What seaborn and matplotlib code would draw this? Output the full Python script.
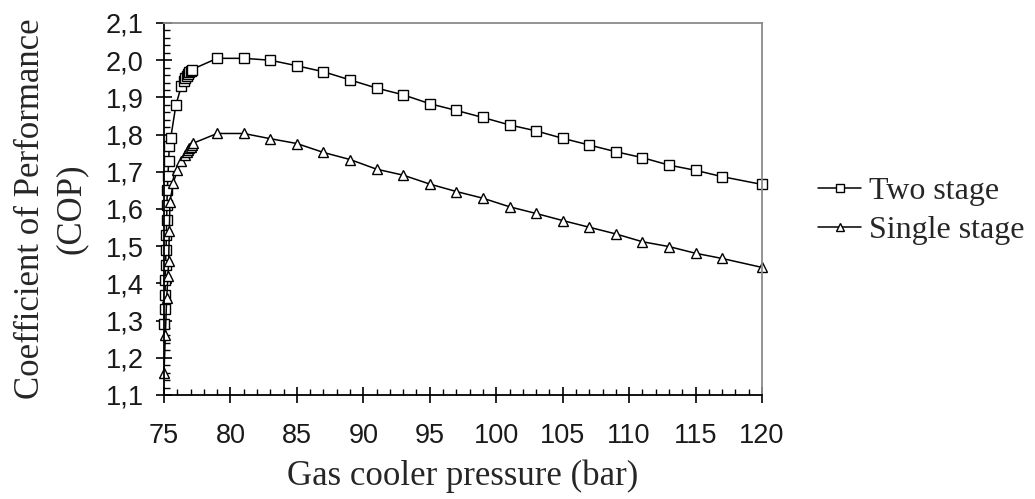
import numpy as np
import pandas as pd
import matplotlib
matplotlib.use("Agg")
import matplotlib.pyplot as plt
from matplotlib.ticker import MultipleLocator, FuncFormatter
import seaborn as sns

# ---- data ----
series_names = ["Two stage", "Single stage"]

two_x = [75.0, 75.05, 75.08, 75.1, 75.12, 75.15, 75.18, 75.2, 75.22, 75.25, 75.3, 75.35,
         75.4, 75.5, 75.9, 76.3, 76.5, 76.6, 76.7, 76.8, 76.9, 77.0, 77.1,
         79, 81, 83, 85, 87, 89, 91, 93, 95, 97, 99, 101, 103, 105, 107, 109,
         111, 113, 115, 117, 120]
two_y = [1.29, 1.33, 1.37, 1.41, 1.45, 1.49, 1.53, 1.57, 1.61, 1.65, 1.69, 1.73,
         1.77, 1.79, 1.88, 1.93, 1.945, 1.952, 1.958, 1.963, 1.967, 1.971, 1.975,
         2.005, 2.005, 2.000, 1.985, 1.969, 1.947, 1.925, 1.907, 1.883, 1.865, 1.846,
         1.826, 1.810, 1.790, 1.772, 1.754, 1.738, 1.718, 1.704, 1.687, 1.666]

single_x = [75.0, 75.1, 75.2, 75.3, 75.35, 75.4, 75.45, 75.7, 76.0, 76.3, 76.6, 76.7,
            76.8, 76.9, 77.0, 77.1, 77.2,
            79, 81, 83, 85, 87, 89, 91, 93, 95, 97, 99, 101, 103, 105, 107, 109,
            111, 113, 115, 117, 120]
single_y = [1.16, 1.26, 1.36, 1.42, 1.46, 1.54, 1.62, 1.67, 1.705, 1.73, 1.745, 1.752,
            1.758, 1.763, 1.768, 1.773, 1.777,
            1.803, 1.803, 1.789, 1.776, 1.752, 1.733, 1.707, 1.691, 1.667, 1.647, 1.629,
            1.606, 1.588, 1.569, 1.551, 1.533, 1.512, 1.499, 1.481, 1.467, 1.443]

x_label = "Gas cooler pressure (bar)"
y_label = "Coefficient of Performance\n(COP)"

df = pd.concat([
    pd.DataFrame({"p": two_x, "cop": two_y, "series": series_names[0]}),
    pd.DataFrame({"p": single_x, "cop": single_y, "series": series_names[1]}),
], ignore_index=True)

sns.set_style("ticks")
plt.rcParams["font.family"] = ["Liberation Sans", "DejaVu Sans"]

fig = plt.figure(figsize=(10.35, 4.99), dpi=100)
ax = fig.add_axes([164 / 1035, 1 - 395 / 499, (762 - 164) / 1035, (395 - 23) / 499])

sns.lineplot(data=df, x="p", y="cop", hue="series", style="series",
             palette={series_names[0]: "black", series_names[1]: "black"},
             markers={series_names[0]: "s", series_names[1]: "^"},
             dashes=False, sort=False, estimator=None, legend=False, ax=ax,
             linewidth=1.1, markersize=7, markerfacecolor="white",
             markeredgecolor="black", markeredgewidth=1.0, clip_on=False)

ax.set_xlim(75, 120)
ax.set_ylim(1.1, 2.1)
ax.xaxis.set_major_locator(MultipleLocator(5))
ax.xaxis.set_minor_locator(MultipleLocator(1))
ax.yaxis.set_major_locator(MultipleLocator(0.1))
ax.yaxis.set_minor_locator(MultipleLocator(0.02))
ax.yaxis.set_major_formatter(FuncFormatter(lambda v, p: f"{v:.1f}".replace(".", ",")))

ax.tick_params(axis="both", which="major", direction="inout", length=11, width=1.2,
               labelsize=19.5, color="black", labelcolor="#1a1a1a")
ax.tick_params(axis="x", which="major", pad=15)
ax.tick_params(axis="y", which="major", pad=9)
ax.tick_params(axis="both", which="minor", direction="in", length=4.5, width=1.0, color="black")

for s in ["left", "bottom"]:
    ax.spines[s].set_color("black")
    ax.spines[s].set_linewidth(1.3)
for s in ["top", "right"]:
    ax.spines[s].set_color("#8a8a8a")
    ax.spines[s].set_linewidth(1.3)

serif = ["Liberation Serif", "DejaVu Serif"]
ax.set_xlabel(x_label, family=serif, fontsize=25, labelpad=7)
ax.set_ylabel(y_label, family=serif, fontsize=25, labelpad=13, linespacing=1.32)

lines = ax.get_lines()
leg = ax.legend(lines[:2], series_names, loc="center left",
                bbox_to_anchor=(1.094, 0.495), frameon=False, numpoints=1,
                handlelength=1.35, handletextpad=0.25, labelspacing=0.3,
                prop={"family": serif, "size": 23}, borderaxespad=0, borderpad=0)
for h in leg.legend_handles:
    h.set_markersize(6)

fig.savefig("out.png", dpi=100, facecolor="white")
